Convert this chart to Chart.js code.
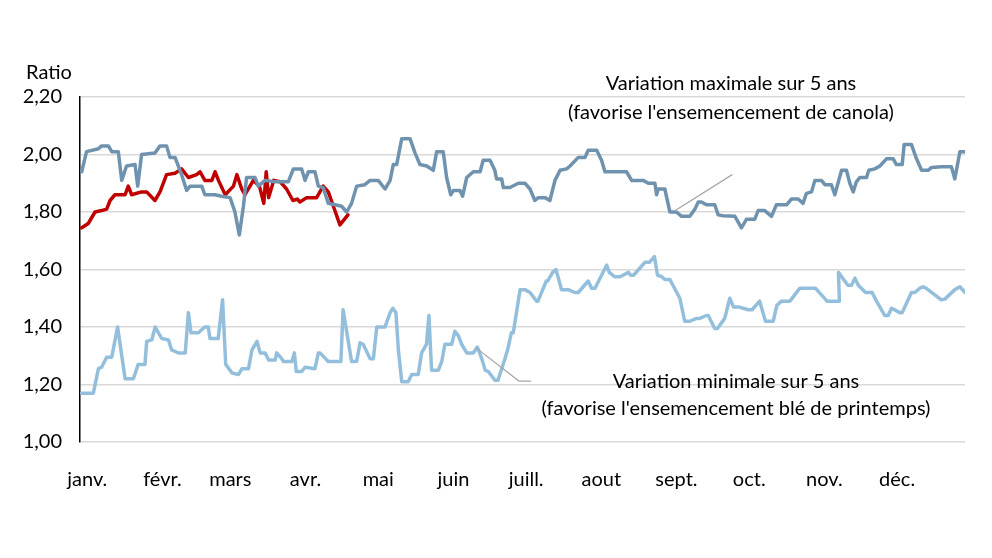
<!DOCTYPE html>
<html>
<head>
<meta charset="utf-8">
<script src="https://cdn.jsdelivr.net/npm/chart.js@4"></script>
<style>
  html, body { margin: 0; padding: 0; background: #fff; }
  #wrap { width: 992px; height: 558px; }
</style>
</head>
<body>
<div id="wrap"><canvas id="c" width="992" height="558"></canvas></div>
<script>
// day of year for each reading, and the ratio
const maxDays = [0.7,2.7,7.6,8.9,11.7,13.1,15.8,17.2,19.2,22.7,23.8,25.4,30.9,33,35.7,37.1,39.2,41.9,44,45.4,50.2,51.5,55.7,58.4,61.9,63.9,65.7,67.4,68.7,72.2,73.5,76.3,80.4,85.9,88,91.4,92.8,94.2,96.9,98.3,100.3,102.4,105.2,107.9,110,112,114.1,117.5,
  119.6,123,125.8,127.9,129.2,130.6,132.7,136.1,138.2,140.2,143,145.7,147.1,149.8,151.2,152.9,154,156.7,157.8,159.5,162.2,165,166.3,169.1,171.1,171.8,173.9,174.6,177.3,180.8,183.5,185.6,187.6,189,191.8,193.8,195.9,198,200.7,202.1,205.5,208.3,209.6,213.1,215.1,216.5,225.4,227.5,232.3,234.4,237.1,237.8,238.5,241.2,
  243.3,246,248.1,251.5,253.6,255,256.3,258.4,261.8,263.2,265.3,270.1,272.8,274.9,278.3,279.7,282.4,285.2,287.2,291.4,293.4,296.2,298.2,299.6,301.7,303.1,305.8,307.2,309.9,311.3,314.1,316.1,317.5,318.9,320.2,321.6,324.4,325.3,327.8,329.9,332.6,335.4,336.7,339.1,339.9,342.9,345,347.1,349.8,351.2,355.3,359.4,360.8,362.9,365];
const maxVals = [1.94,2.01,2.02,2.03,2.03,2.01,2.01,1.91,1.96,1.965,1.89,2.0,2.005,2.03,2.03,1.99,1.99,1.93,1.875,1.89,1.89,1.86,1.86,1.855,1.85,1.80,1.72,1.82,1.92,1.92,1.89,1.91,1.905,1.905,1.95,1.95,1.91,1.94,1.94,1.89,1.885,1.83,1.825,1.82,1.80,1.83,1.89,1.895,
  1.91,1.91,1.88,1.91,1.965,1.965,2.055,2.055,2.005,1.965,1.96,1.945,2.01,2.01,1.92,1.86,1.875,1.875,1.855,1.92,1.94,1.94,1.98,1.98,1.945,1.915,1.915,1.885,1.885,1.90,1.90,1.88,1.84,1.85,1.85,1.84,1.91,1.945,1.95,1.96,1.99,1.99,2.015,2.015,1.98,1.94,1.94,1.91,1.91,1.90,1.90,1.86,1.88,1.88,
  1.80,1.80,1.785,1.785,1.81,1.835,1.835,1.825,1.825,1.79,1.787,1.785,1.745,1.775,1.775,1.805,1.805,1.785,1.825,1.825,1.845,1.845,1.83,1.865,1.87,1.91,1.91,1.895,1.895,1.86,1.945,1.945,1.90,1.87,1.905,1.92,1.92,1.945,1.95,1.96,1.985,1.985,1.965,1.965,2.035,2.035,1.985,1.945,1.945,1.955,1.957,1.957,1.915,2.01,2.01];

const minDays = [0.7,5.5,7.6,8.9,11,13.1,15.5,18.6,22,24,26.8,27.5,29.6,31,33.7,36.5,37.8,40.6,43.4,44.7,45.8,48.8,51.5,52.9,53.6,57,58.8,60.1,62.7,65.4,66.8,69.5,70.9,73,74.3,76.3,77.8,80.5,81.1,83.2,83.9,87.4,88.4,89.2,91.4,92.8,96.9,98.3,99,102.4,107.6,108.5,112,114.1,115.5,116.8,
  119.6,121,122.4,125.8,127.9,129,130.3,131.3,132.7,135.4,136.8,139.5,140.9,142.9,143.9,145.0,147.8,149.2,150.5,153.3,154.6,156,157.4,159.5,162.2,163.9,165.7,167.1,168.4,171.1,172.4,175.1,176.5,177.9,178.7,181.5,183.5,185.6,188.3,188.9,192.3,192.9,194.9,196.3,198.6,201.4,204.1,205.5,209.6,211,212.4,217.2,218.3,220.4,222.7,226.2,227.1,228.3,233.0,234.8,236.9,238.2,239.9,241.2,
  243.3,247.4,249.4,251.5,254.3,255.6,258.4,259.1,261.8,262.9,265.9,268,269.5,271.5,275.6,277.2,280.3,282.7,285.9,287.4,289.3,292.8,296.9,303.3,308.1,309.7,313.2,312.8,316.7,318.2,319.6,321,324,326.7,328.5,331.9,333.3,334.7,338.1,339.1,342.9,344.3,346.4,347.7,348.9,355.1,356.7,360.8,362.9,365];
const minVals = [1.17,1.17,1.255,1.26,1.295,1.295,1.40,1.22,1.22,1.27,1.27,1.35,1.355,1.40,1.36,1.355,1.32,1.31,1.31,1.45,1.38,1.38,1.40,1.40,1.36,1.36,1.495,1.27,1.24,1.235,1.255,1.255,1.32,1.35,1.31,1.31,1.285,1.285,1.31,1.29,1.28,1.28,1.31,1.245,1.245,1.26,1.255,1.31,1.31,1.28,1.28,1.46,1.28,1.28,1.345,1.34,
  1.29,1.29,1.40,1.40,1.45,1.465,1.45,1.32,1.21,1.21,1.235,1.235,1.31,1.34,1.44,1.25,1.25,1.28,1.34,1.34,1.385,1.37,1.34,1.31,1.31,1.33,1.29,1.25,1.245,1.215,1.215,1.285,1.325,1.38,1.38,1.53,1.53,1.52,1.49,1.49,1.56,1.56,1.59,1.60,1.53,1.53,1.52,1.52,1.56,1.535,1.535,1.615,1.59,1.575,1.575,1.59,1.58,1.58,1.625,1.625,1.645,1.58,1.575,
  1.565,1.565,1.50,1.42,1.42,1.43,1.43,1.44,1.44,1.395,1.395,1.43,1.50,1.47,1.47,1.46,1.46,1.49,1.42,1.42,1.475,1.49,1.49,1.535,1.535,1.49,1.49,1.49,1.59,1.545,1.545,1.57,1.545,1.52,1.52,1.49,1.44,1.44,1.465,1.45,1.45,1.52,1.52,1.535,1.54,1.535,1.495,1.497,1.53,1.54,1.52,1.52];

const curDays = [0.7,3.4,6.2,8.9,11,12.4,14.4,18.6,19.9,21.3,25.4,27.5,30.9,33,35.7,39.2,41.9,44.7,48.1,49.5,51.5,54.4,55.7,57.1,59.9,63.3,64.7,66.7,68,70.1,71.5,74,75.8,76.8,77.8,79.9,82.6,85.2,87.8,89.6,90.7,93.5,97.6,100.3,102.4,104.5,107.2,110.5];
const curVals = [1.745,1.76,1.80,1.805,1.81,1.84,1.86,1.86,1.89,1.86,1.87,1.87,1.84,1.87,1.93,1.935,1.95,1.92,1.93,1.94,1.91,1.91,1.94,1.91,1.86,1.89,1.93,1.88,1.86,1.89,1.91,1.89,1.83,1.94,1.85,1.91,1.905,1.88,1.84,1.845,1.835,1.85,1.85,1.89,1.87,1.82,1.755,1.79];

const monthLabels = ['janv.','févr.','mars','avr.','mai','juin','juill.','aout','sept.','oct.','nov.','déc.'];
const monthStarts = [0,31,59,90,120,151,181,212,243,273,304,334];
const yTicks = [1.0, 1.2, 1.4, 1.6, 1.8, 2.0, 2.2];

const FONT = 'Lato, "Open Sans", sans-serif';
const pts = (xs, ys) => xs.map((x, i) => ({ x: x, y: ys[i] }));

// text and leader lines of the two notes, drawn over the chart
const notes = {
  id: 'notes',
  afterDraw(chart) {
    const c = chart.ctx, xs = chart.scales.x, ys = chart.scales.y;
    const X = v => xs.getPixelForValue(v), Y = v => ys.getPixelForValue(v);
    c.save();
    c.strokeStyle = '#a6a6a6';
    c.lineWidth = 1.2;
    c.beginPath();
    c.moveTo(X(269), Y(1.93)); c.lineTo(X(245.5), Y(1.805));
    c.moveTo(X(163), Y(1.33)); c.lineTo(X(181), Y(1.212)); c.lineTo(X(186), Y(1.212));
    c.stroke();
    c.fillStyle = '#000';
    c.font = '20px ' + FONT;
    c.textAlign = 'center';
    c.textBaseline = 'middle';
    c.fillText('Variation maximale sur 5 ans', 731, 84);
    c.fillText("(favorise l'ensemencement de canola)", 731, 113);
    c.fillText('Variation minimale sur 5 ans', 736, 382);
    c.fillText("(favorise l'ensemencement blé de printemps)", 736, 409);
    c.textAlign = 'left';
    c.fillText('Ratio', 26, 73);
    c.restore();
  }
};

const line = (data, color) => ({
  data: data, borderColor: color, borderWidth: 3.5, pointRadius: 0,
  tension: 0, borderJoinStyle: 'round', borderCapStyle: 'round'
});

new Chart(document.getElementById('c'), {
  type: 'line',
  data: {
    datasets: [
      line(pts(maxDays, maxVals), '#6f93af'),
      line(pts(minDays, minVals), '#93bfdc'),
      line(pts(curDays, curVals), '#c00000')
    ]
  },
  options: {
    responsive: false,
    animation: false,
    parsing: false,
    layout: { padding: { top: 97, right: 27, bottom: 48, left: 0 } },
    plugins: { legend: { display: false }, tooltip: { enabled: false } },
    scales: {
      x: {
        type: 'linear', min: 0, max: 365,
        afterBuildTicks: ax => { ax.ticks = monthStarts.map(d => ({ value: d + 3 })); },
        ticks: {
          autoSkip: false, maxRotation: 0, color: '#000', padding: 18,
          font: { family: FONT, size: 20 },
          callback: (v, i) => monthLabels[i]
        },
        grid: { display: false },
        border: { display: false }
      },
      y: {
        min: 1.0, max: 2.2,
        afterFit: ax => { ax.width = 80; },
        afterBuildTicks: ax => { ax.ticks = yTicks.map(v => ({ value: v })); },
        ticks: {
          color: '#000', padding: 18,
          font: { family: FONT, size: 20 },
          callback: v => v.toFixed(2).replace('.', ',')
        },
        grid: { color: '#d9d9d9', lineWidth: 1.5, drawTicks: false },
        border: { display: true, color: '#000', width: 1.5 }
      }
    }
  },
  plugins: [notes]
});
</script>
</body>
</html>
